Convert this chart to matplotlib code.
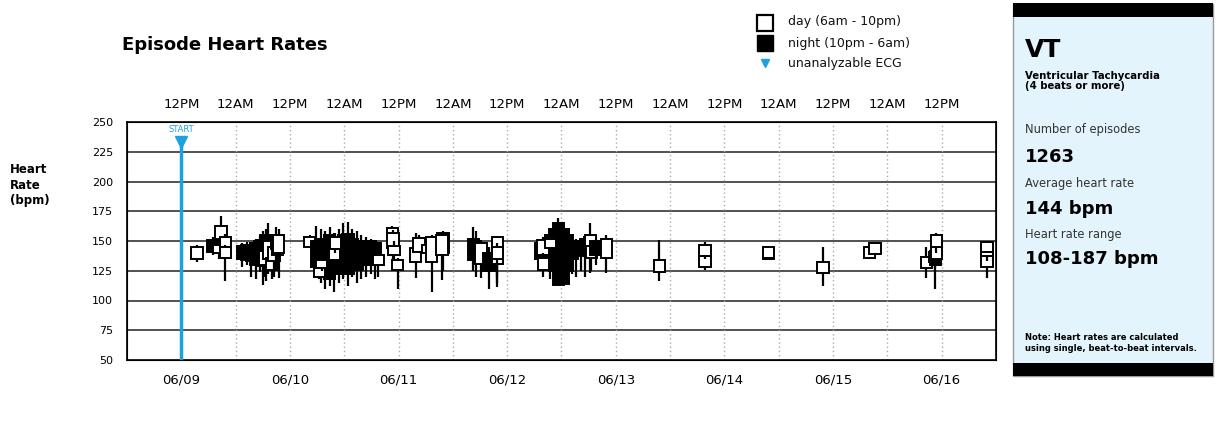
import matplotlib.pyplot as plt
from matplotlib.patches import Rectangle
from matplotlib.lines import Line2D

# episode candles: hours since 06/09 00:00, low / box bottom / box top / high (bpm)
ep_hour = [15.5, 19.0, 20.3, 20.8, 21.7, 21.7,
           25.5, 26.5, 27.5, 28.5, 29.3, 30.0, 30.7,
           30.5, 31.2, 32.0, 32.5, 33.0, 33.3, 33.5,
           40.4, 41.8, 42.8, 43.8, 44.8, 45.8, 46.8, 47.8, 48.8, 49.8, 50.8,
           51.8, 52.8, 53.8, 54.8, 42.5, 43.0, 45.8, 46.0, 55.5,
           58.6, 58.8, 59.0, 59.8,
           63.8, 64.5, 66.5, 67.3, 69.8, 69.6,
           76.5, 77.0, 78.2, 80.0, 81.8, 81.8, 81.8,
           91.5, 92.5, 93.5, 94.5, 95.3, 96.3, 97.3, 98.3, 99.3, 100.3, 101.3, 102.3,
           91.9, 92.0, 93.5, 102.4, 102.6, 103.6, 105.9,
           117.6, 127.7, 127.7, 141.7, 141.7, 153.8, 164.0, 165.3,
           176.6, 178.5, 178.6, 178.8, 178.8, 190.0, 190.0, 190.0]
ep_low = [132, 138, 135, 150, 140, 116,
          128, 130, 120, 118, 124, 113, 116,
          120, 122, 118, 120, 125, 128, 119,
          145, 122, 115, 110, 112, 107, 115, 118, 112, 120, 115,
          118, 120, 122, 118, 118, 125, 130, 140, 120,
          150, 135, 130, 110,
          119, 140, 135, 107, 125, 117,
          125, 120, 119, 110, 111, 115, 120,
          130, 125, 118, 113, 113, 114, 118, 122, 120, 125, 120, 123,
          130, 120, 130, 140, 125, 130, 123,
          116, 126, 135, 135, 136, 112, 135, 139,
          119, 127, 110, 130, 140, 119, 133, 140]
ep_q1 = [135, 141, 140, 152, 145, 136,
         135, 134, 133, 130, 132, 129, 131,
         130, 135, 126, 133, 143, 138, 140,
         145, 128, 124, 120, 118, 122, 125, 128, 122, 128, 126,
         130, 130, 132, 132, 120, 127, 134, 143, 130,
         155, 144, 138, 126,
         132, 141, 140, 132, 140, 138,
         134, 136, 131, 125, 131, 131, 135,
         135, 133, 130, 125, 113, 114, 125, 135, 138, 140, 137, 139,
         138, 126, 144, 144, 136, 138, 136,
         124, 128, 137, 135, 136, 123, 135.7, 139,
         127, 132, 130, 135, 145, 128, 137, 141]
ep_q3 = [145, 151, 147, 163, 153, 145,
         146, 147, 146, 148, 150, 151, 155,
         142, 150, 136, 145, 152, 148, 155,
         153, 150, 152, 148, 155, 150, 148, 155, 156, 152, 150,
         150, 149, 150, 148, 127, 134, 143, 153, 138,
         161, 157, 146, 134,
         144, 152.5, 147, 153, 157, 155,
         152, 150, 148, 140, 153, 141, 145,
         148, 150, 155, 160, 165, 160, 155, 150, 149, 150, 152, 153,
         151, 136, 152, 155, 146, 150, 152,
         134, 137, 146.5, 138, 145, 132, 145, 148,
         136.5, 141, 142, 145, 155, 137, 145, 149]
ep_high = [147, 153, 150, 171, 156, 147,
           148, 149, 148, 152, 155, 158, 160,
           146, 165, 140, 150, 162, 152, 160,
           155, 163, 160, 158, 162, 157, 160, 165, 166, 160, 158,
           155, 153, 152, 151, 130, 136, 153, 157, 145,
           163, 159, 150, 136,
           157, 155, 150, 155, 158, 157,
           162, 158, 150, 145, 154, 145, 148,
           152, 155, 160, 165, 169, 166, 160, 155, 152, 152, 154, 156,
           153, 140, 155, 165, 148, 152, 155,
           151, 140, 149, 138, 145, 145, 145, 148,
           145, 143, 145, 150, 157, 140, 147, 150]
ep_night = [0, 1, 0, 0, 0, 0,
            1, 1, 1, 1, 1, 1, 1,
            0, 0, 0, 0, 0, 0, 0,
            0, 1, 1, 1, 1, 1, 1, 1, 1, 1, 1,
            1, 1, 1, 1, 0, 0, 0, 0, 0,
            0, 0, 0, 0,
            0, 0, 0, 0, 1, 0,
            1, 1, 0, 1, 0, 0, 0,
            1, 1, 1, 1, 1, 1, 1, 1, 1, 1, 1, 1,
            0, 0, 0, 0, 0, 1, 0,
            0, 0, 0, 1, 0, 0, 0, 0,
            0, 1, 1, 0, 0, 0, 0, 0]

date_labels = ['06/09', '06/10', '06/11', '06/12', '06/13', '06/14', '06/15', '06/16']
y_ticks = [50, 75, 100, 125, 150, 175, 200, 225, 250]
start_hour = 12
blue = '#1ba3dd'

fig = plt.figure(figsize=(12.25, 4.24), dpi=100)
W, H = 1225, 424

def fx(px):
    return px / W

def fy(py):
    return 1 - py / H

ax = fig.add_axes([fx(127), fy(360), fx(996) - fx(127), fy(122) - fy(360)])
ax.set_xlim(0, 192)
ax.set_ylim(50, 250)

# grid
for y in y_ticks[1:-1]:
    ax.axhline(y, color='#333333', lw=1.2, zorder=1)
for h in range(24, 192, 12):
    ax.axvline(h, color='#aaaaaa', lw=1, ls=(0, (1, 2)), zorder=1)

# candles
for i in range(len(ep_hour)):
    z = 2 + 2 * i
    ax.vlines(ep_hour[i], ep_low[i], ep_high[i], color='black', lw=1.6, zorder=z)
    face = 'black' if ep_night[i] else 'white'
    ax.bar(ep_hour[i], ep_q3[i] - ep_q1[i], bottom=ep_q1[i], width=2.5,
           color=face, edgecolor='black', linewidth=1.4, zorder=z + 1)

# start marker
ax.plot([start_hour, start_hour], [50, 232], color=blue, lw=2.5, zorder=500)
ax.plot(start_hour, 233, marker='v', color=blue, markersize=9, zorder=501)
ax.text(start_hour, 244, 'START', color=blue, fontsize=6, ha='center', va='center')

ax.set_yticks(y_ticks)
ax.set_yticklabels([str(v) for v in y_ticks], fontsize=8)
ax.set_xticks([12 + 24 * i for i in range(len(date_labels))])
ax.set_xticklabels(date_labels, fontsize=9.5)
ax.tick_params(length=0, pad=10)
ax.tick_params(axis='y', pad=10)
for s in ax.spines.values():
    s.set_linewidth(1.2)

top = ax.twiny()
top.set_xlim(ax.get_xlim())
top_pos = list(range(12, 192, 12))
top.set_xticks(top_pos)
top.set_xticklabels(['12PM' if (h // 12) % 2 == 1 else '12AM' for h in top_pos], fontsize=9.5)
top.tick_params(length=0, pad=8)

# titles
fig.text(fx(122), fy(45), 'Episode Heart Rates', fontsize=13, fontweight='bold', va='center')
fig.text(fx(10), fy(185), 'Heart\nRate\n(bpm)', fontsize=8.5, fontweight='bold', va='center',
         linespacing=1.25)

# legend
fig.add_artist(Line2D([fx(765)], [fy(23)], marker='s', markersize=11, markerfacecolor='white',
                      markeredgecolor='black', markeredgewidth=1.6, transform=fig.transFigure))
fig.add_artist(Line2D([fx(765)], [fy(43)], marker='s', markersize=11, markerfacecolor='black',
                      markeredgecolor='black', transform=fig.transFigure))
fig.add_artist(Line2D([fx(765)], [fy(63)], marker='v', markersize=6, color=blue,
                      transform=fig.transFigure))
for py, label in [(22, 'day (6am - 10pm)'), (43, 'night (10pm - 6am)'), (64, 'unanalyzable ECG')]:
    fig.text(fx(788), fy(py), label, fontsize=9, va='center', color='#111111')

# side panel
fig.add_artist(Rectangle((fx(1013), fy(376)), fx(200), 372 / H, transform=fig.transFigure,
                         facecolor='#e3f4fc', edgecolor='#999999', lw=1))
fig.add_artist(Rectangle((fx(1013), fy(17)), fx(200), 14 / H, transform=fig.transFigure,
                         facecolor='black', edgecolor='none'))
fig.add_artist(Rectangle((fx(1013), fy(376)), fx(200), 13 / H, transform=fig.transFigure,
                         facecolor='black', edgecolor='none'))
px = fx(1025)
fig.text(px, fy(50), 'VT', fontsize=18, fontweight='bold', va='center')
fig.text(px, fy(81), 'Ventricular Tachycardia\n(4 beats or more)', fontsize=7.3,
         fontweight='bold', va='center', linespacing=1.05)
fig.text(px, fy(130), 'Number of episodes', fontsize=8.3, va='center', color='#333333')
fig.text(px, fy(157), '1263', fontsize=13, fontweight='bold', va='center')
fig.text(px, fy(183), 'Average heart rate', fontsize=8.3, va='center', color='#333333')
fig.text(px, fy(209), '144 bpm', fontsize=13, fontweight='bold', va='center')
fig.text(px, fy(234), 'Heart rate range', fontsize=8.3, va='center', color='#333333')
fig.text(px, fy(259), '108-187 bpm', fontsize=13, fontweight='bold', va='center')
fig.text(px, fy(343), 'Note: Heart rates are calculated\nusing single, beat-to-beat intervals.',
         fontsize=6, fontweight='bold', va='center', linespacing=1.15)

fig.savefig('out.png', dpi=100)
